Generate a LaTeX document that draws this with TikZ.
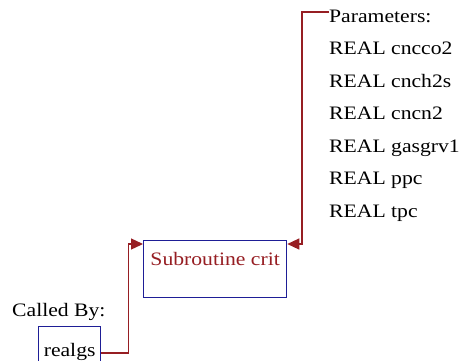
\documentclass[tikz,border=0pt]{standalone}
\usepackage{fontspec}
\setmainfont{Liberation Serif}[FakeStretch=1.14]
\usepackage{tikz}
\usetikzlibrary{arrows.meta}
\definecolor{linkred}{RGB}{150, 30, 35}
\definecolor{boxblue}{RGB}{30, 30, 150}

\tikzset{
  txt/.style={font=\fontsize{19}{21}\selectfont, inner sep=0pt},
  subbox/.style={txt, draw=boxblue, line width=1.3pt},
  link/.style={draw=linkred, line width=1.3pt, -{Triangle[length=12pt, width=11pt]}},
}

\begin{document}
\begin{tikzpicture}[x=1pt, y=-1pt]
  \useasboundingbox (0,0) rectangle (461,360);
  \node[subbox, anchor=north west, minimum width=143pt, text height=25pt, text depth=32pt, text=linkred] (crit) at (143,240) {Subroutine crit};
  \node[subbox, anchor=north west, minimum width=62pt, text height=30pt, text depth=10pt] (realgs) at (38,326) {realgs};
  \node[txt, anchor=base west] (calledby) at (12,316) {Called By:};
  \node[txt, anchor=base west] (params) at (329,22) {Parameters:};
  \foreach \name [count=\i] in {cncco2, cnch2s, cncn2, gasgrv1, ppc, tpc}
    \node[txt, anchor=base west] (par\i) at (329,{22+32.5*\i}) {REAL \name};
  \draw[link] ([yshift=10pt]params.base west) -- ++(-27,0) |- ([yshift=-4pt]crit.north east);
  \draw[link] ([yshift=-27pt]realgs.north east) -- ++(27,0) |- ([yshift=-4pt]crit.north west);
\end{tikzpicture}
\end{document}
